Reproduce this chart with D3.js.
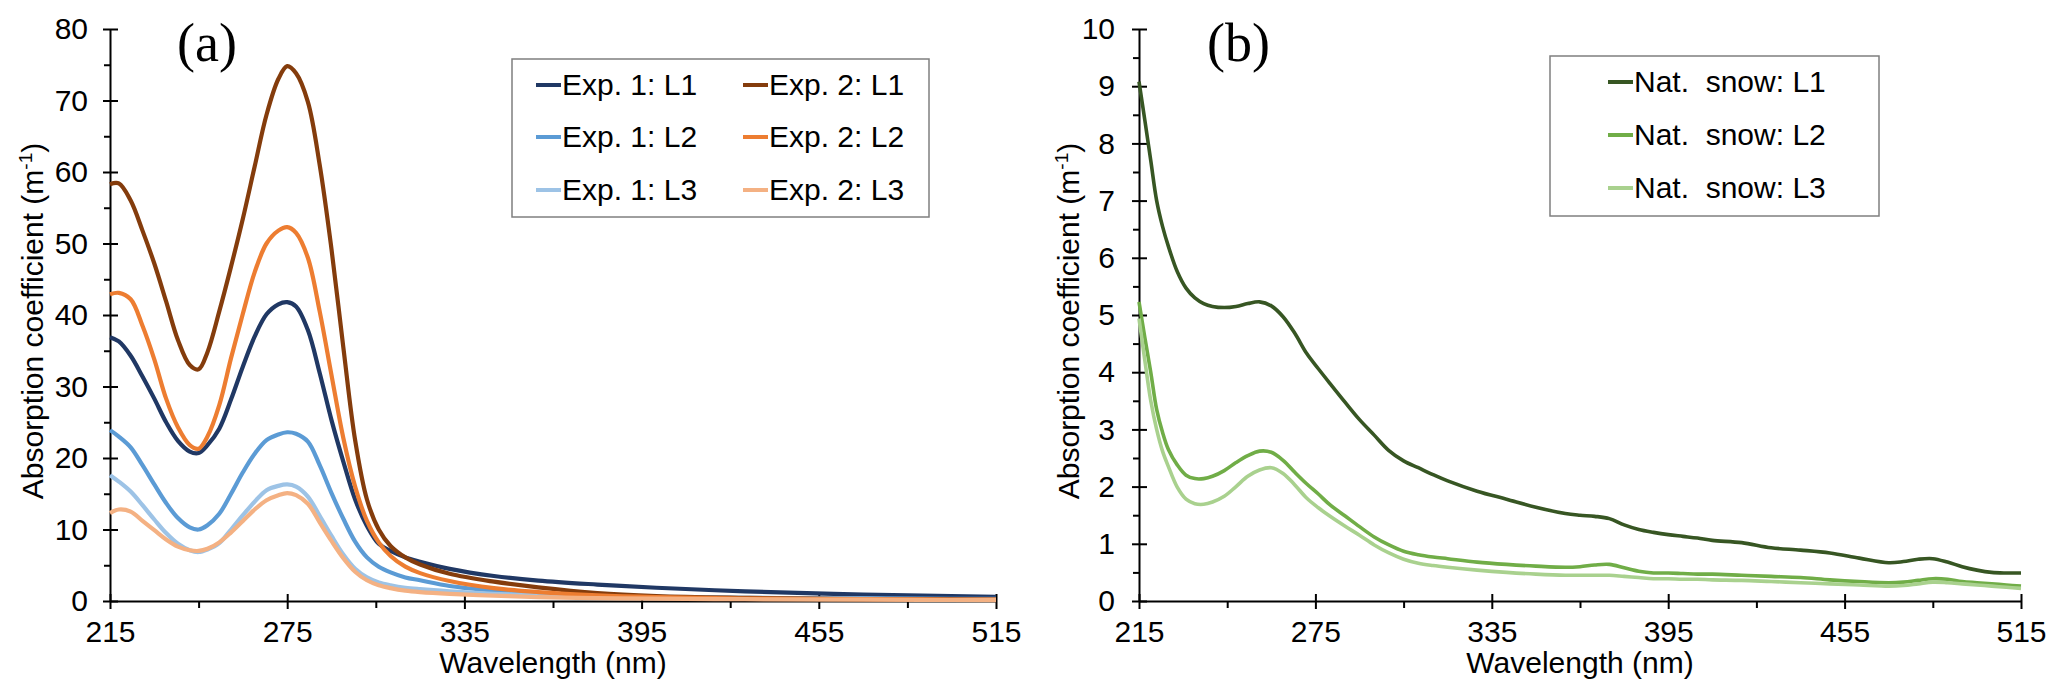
<!DOCTYPE html>
<html>
<head>
  <meta charset="UTF-8">
  <style>
    body { margin: 0; background: #fff; }
    svg { display: block; font-family: 'Liberation Sans', Arial, Helvetica, sans-serif; }
  </style>
</head>
<body>
<svg width="2067" height="700"></svg>

<script src="https://d3js.org/d3.v7.min.js"></script>
<script>

// ---------- panel (a): laboratory experiments
const waveA = [215, 218, 222, 226, 230, 234, 238, 242, 245, 248, 252, 256, 260, 264, 268,
               272, 275, 278, 282, 286, 290, 294, 298, 302, 306, 310, 315, 320, 330, 345,
               360, 380, 400, 430, 460, 490, 515];

const exp1L1 = [36.9, 36.3, 34.3, 31.4, 28.3, 25, 22.4, 20.9, 20.7, 21.8, 24.1, 28.2, 32.8, 37, 40.1,
                41.5, 41.8, 41.2, 37.9, 31.9, 25.3, 19.5, 14.2, 10.5, 8.0, 7.0, 6.1, 5.5, 4.5, 3.5,
                2.85, 2.3, 1.85, 1.35, 1.0, 0.75, 0.58];
const exp1L2 = [23.9, 23.0, 21.5, 19, 16.3, 13.7, 11.6, 10.3, 10.0, 10.6, 12.2, 15, 18, 20.6, 22.5,
                23.3, 23.6, 23.4, 22.3, 19, 15.1, 11.5, 8.3, 6.1, 4.8, 4.0, 3.3, 2.9, 2.1, 1.45,
                1.05, 0.75, 0.58, 0.45, 0.38, 0.32, 0.3];
const exp1L3 = [17.6, 16.7, 15.3, 13.4, 11.4, 9.5, 8.0, 7.1, 6.85, 7.2, 8.1, 10, 12, 13.9, 15.5,
                16.1, 16.3, 16.0, 14.6, 11.9, 9.1, 6.5, 4.5, 3.3, 2.6, 2.2, 1.85, 1.65, 1.35, 1.0,
                0.8, 0.6, 0.5, 0.4, 0.33, 0.28, 0.25];
const exp2L1 = [58.3, 58.4, 56, 51.8, 47.2, 41.9, 36.5, 33.0, 32.4, 34.8, 40.5, 46.8, 53.5, 60.8, 68,
                73, 74.8, 73.8, 69.8, 61, 49.2, 35.5, 22.5, 14.2, 10.0, 7.7, 6.1, 5.1, 3.8, 2.7,
                1.9, 1.1, 0.7, 0.45, 0.3, 0.25, 0.2];
const exp2L2 = [42.9, 43.1, 42.2, 38.5, 33.8, 28.3, 24.3, 21.8, 21.3, 23, 27.4, 34, 40.2, 46, 50,
                51.8, 52.3, 51.5, 48, 40.5, 31.6, 22.8, 16, 11.2, 8.2, 6.3, 4.8, 3.9, 2.8, 1.8,
                1.25, 0.8, 0.55, 0.35, 0.28, 0.22, 0.2];
const exp2L3 = [12.3, 12.8, 12.5, 11.2, 9.9, 8.6, 7.6, 7.1, 7.0, 7.3, 8.2, 9.6, 11.2, 12.8, 14.1,
                14.8, 15.1, 14.8, 13.6, 11.0, 8.4, 6.0, 4.1, 2.9, 2.2, 1.8, 1.45, 1.25, 1.0, 0.75,
                0.55, 0.4, 0.33, 0.25, 0.2, 0.15, 0.12];

const namesA = ["Exp. 1: L1", "Exp. 1: L2", "Exp. 1: L3", "Exp. 2: L1", "Exp. 2: L2", "Exp. 2: L3"];
const colorsA = ["#203864", "#5b9bd5", "#9dc3e6", "#843c0c", "#ed7d31", "#f4b183"];

// ---------- panel (b): natural snow
const waveB = [215, 217, 219, 221, 223, 225, 228, 231, 234, 237, 240, 244, 248, 252, 256, 260,
               264, 268, 272, 276, 280, 285, 290, 295, 300, 305, 310, 315, 320, 330, 340, 350,
               360, 365, 370, 375, 380, 385, 390, 395, 400, 405, 410, 420, 430, 440, 450, 460,
               470, 475, 480, 485, 490, 495, 500, 505, 510, 515];

const snowL1 = [9.08, 8.4, 7.7, 7.0, 6.55, 6.2, 5.76, 5.47, 5.3, 5.2, 5.15, 5.13, 5.15, 5.2, 5.23, 5.16,
                4.97, 4.68, 4.33, 4.06, 3.8, 3.48, 3.17, 2.9, 2.63, 2.45, 2.33, 2.21, 2.1, 1.92, 1.78, 1.64,
                1.53, 1.5, 1.48, 1.44, 1.33, 1.25, 1.2, 1.16, 1.13, 1.1, 1.06, 1.02, 0.93, 0.89, 0.84, 0.75,
                0.67, 0.69, 0.73, 0.74, 0.68, 0.6, 0.54, 0.5, 0.49, 0.49];
const snowL2 = [5.23, 4.6, 4.0, 3.35, 2.95, 2.65, 2.38, 2.2, 2.14, 2.14, 2.18, 2.28, 2.42, 2.54, 2.62, 2.6,
                2.46, 2.25, 2.05, 1.87, 1.68, 1.49, 1.3, 1.12, 0.98, 0.87, 0.81, 0.77, 0.74, 0.68, 0.64, 0.61,
                0.59, 0.6, 0.63, 0.64, 0.58, 0.52, 0.49, 0.49, 0.48, 0.47, 0.47, 0.45, 0.43, 0.41, 0.37, 0.34,
                0.32, 0.33, 0.36, 0.39, 0.38, 0.34, 0.32, 0.3, 0.28, 0.26];
const snowL3 = [4.94, 4.2, 3.5, 3.0, 2.62, 2.35, 1.99, 1.78, 1.7, 1.69, 1.73, 1.83, 2.0, 2.18, 2.29, 2.33,
                2.23, 2.03, 1.8, 1.63, 1.48, 1.31, 1.15, 0.98, 0.84, 0.73, 0.66, 0.62, 0.59, 0.54, 0.5, 0.47,
                0.45, 0.45, 0.45, 0.45, 0.43, 0.41, 0.39, 0.39, 0.38, 0.38, 0.37, 0.36, 0.34, 0.32, 0.3, 0.28,
                0.26, 0.27, 0.3, 0.33, 0.32, 0.3, 0.28, 0.26, 0.24, 0.22];

const namesB = ["Nat.  snow: L1", "Nat.  snow: L2", "Nat.  snow: L3"];
const colorsB = ["#375623", "#70ad47", "#a9d18e"];

// ---------- ticks
const xTicks = [215, 275, 335, 395, 455, 515];
const xMinor = [245, 305, 365, 425, 485];
const yTicksA = [0, 10, 20, 30, 40, 50, 60, 70, 80];
const yMinorA = [5, 15, 25, 35, 45, 55, 65, 75];
const yTicksB = [0, 1, 2, 3, 4, 5, 6, 7, 8, 9, 10];
const yMinorB = [0.5, 1.5, 2.5, 3.5, 4.5, 5.5, 6.5, 7.5, 8.5, 9.5];

const svg = d3.select("svg");
const FONT = "'Liberation Sans', Arial, Helvetica, sans-serif";

function drawPanel(cfg) {
    let g = svg.append("g");

    let x = d3.scaleLinear().domain([215, 515]).range([cfg.left, cfg.right]);
    let y = d3.scaleLinear().domain([0, cfg.yMax]).range([601, 29]);

    // minor ticks (outside only)
    g.append("g")
        .attr("transform", "translate(0,601)")
        .call(d3.axisBottom(x).tickValues(xMinor).tickSize(7).tickFormat(""))
        .call(a => a.select(".domain").remove());
    g.append("g")
        .attr("transform", "translate(" + cfg.left + ",0)")
        .call(d3.axisLeft(y).tickValues(cfg.yMinor).tickSize(6).tickFormat(""))
        .call(a => a.select(".domain").remove());

    // major ticks cross the axis line
    let xa = g.append("g")
        .attr("transform", "translate(0,601)")
        .call(d3.axisBottom(x).tickValues(xTicks).tickSizeInner(8).tickSizeOuter(0).tickPadding(12));
    xa.selectAll(".tick line").attr("y1", -7);

    let ya = g.append("g")
        .attr("transform", "translate(" + cfg.left + ",0)")
        .call(d3.axisLeft(y).tickValues(cfg.yTicks).tickSizeInner(7).tickSizeOuter(0).tickPadding(cfg.yPad));
    ya.selectAll(".tick line").attr("x1", 8);

    g.selectAll(".domain, .tick line").attr("stroke", "#000").attr("stroke-width", 2);
    g.selectAll(".tick text").attr("font-size", 30).attr("font-family", FONT).attr("fill", "#000");

    // curves
    let line = d3.line()
        .x((d, i) => x(cfg.wave[i]))
        .y(d => y(d))
        .curve(d3.curveCatmullRom.alpha(0.5));
    cfg.series.forEach((vals, k) => {
        g.append("path")
            .attr("d", line(vals))
            .attr("fill", "none")
            .attr("stroke", cfg.colors[k])
            .attr("stroke-width", cfg.lw)
            .attr("stroke-linejoin", "round");
    });

    // axis titles
    g.append("text")
        .attr("x", (cfg.left + cfg.right) / 2).attr("y", 673)
        .attr("text-anchor", "middle")
        .attr("font-size", 30).attr("font-family", FONT)
        .text("Wavelength (nm)");

    let yt = g.append("text")
        .attr("transform", "translate(" + cfg.yTitleX + ",321) rotate(-90)")
        .attr("text-anchor", "middle")
        .attr("font-size", 30).attr("font-family", FONT);
    yt.append("tspan").text("Absorption coefficient (m");
    yt.append("tspan").attr("font-size", 19).attr("dy", -11).text("-1");
    yt.append("tspan").attr("dy", 11).text(")");

    // panel letter
    g.append("text")
        .attr("x", cfg.tagX).attr("y", 61)
        .attr("font-size", 54)
        .attr("font-family", "'Liberation Serif', 'Times New Roman', serif")
        .text(cfg.tag);

    // legend
    let lg = g.append("g");
    lg.append("rect")
        .attr("x", cfg.legend.x).attr("y", cfg.legend.y)
        .attr("width", cfg.legend.w).attr("height", cfg.legend.h)
        .attr("fill", "#fff").attr("stroke", "#7f7f7f").attr("stroke-width", 1.5);
    cfg.names.forEach((name, k) => {
        let col = Math.floor(k / 3), row = k % 3;
        let lx = cfg.legend.cols[col];
        let ly = cfg.legend.rows[row];
        lg.append("line")
            .attr("x1", lx).attr("x2", lx + 25)
            .attr("y1", ly).attr("y2", ly)
            .attr("stroke", cfg.colors[k]).attr("stroke-width", 4);
        lg.append("text")
            .attr("x", lx + 26).attr("y", ly + 9.5)
            .attr("font-size", 30).attr("font-family", FONT)
            .style("white-space", "pre")
            .text(name);
    });
}

drawPanel({
    left: 110, right: 996, yMax: 80,
    yTicks: yTicksA, yMinor: yMinorA, yPad: 15,
    wave: waveA,
    series: [exp1L1, exp1L2, exp1L3, exp2L1, exp2L2, exp2L3],
    colors: colorsA, names: namesA, lw: 4.2,
    yTitleX: 43, tag: "(a)", tagX: 177,
    legend: { x: 512, y: 59, w: 417, h: 158, cols: [536, 743], rows: [85, 137, 190] }
});

drawPanel({
    left: 1139, right: 2021, yMax: 10,
    yTicks: yTicksB, yMinor: yMinorB, yPad: 17,
    wave: waveB,
    series: [snowL1, snowL2, snowL3],
    colors: colorsB, names: namesB, lw: 3.6,
    yTitleX: 1079, tag: "(b)", tagX: 1207,
    legend: { x: 1550, y: 56, w: 329, h: 160, cols: [1608], rows: [82, 135, 188] }
});

</script>
</body>
</html>
